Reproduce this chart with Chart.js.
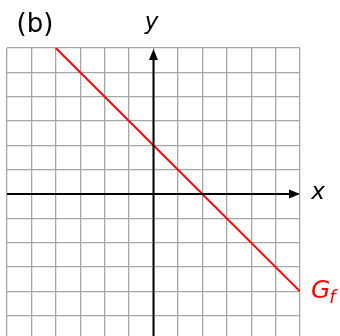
<!DOCTYPE html>
<html>
<head>
<meta charset="utf-8">
<script src="https://cdn.jsdelivr.net/npm/chart.js@4.4.0/dist/chart.umd.min.js"></script>
<style>
  html, body { margin: 0; padding: 0; background: #fff; overflow: hidden; }
  #wrap { width: 340px; height: 336px; overflow: hidden; }
  canvas { display: block; }
</style>
</head>
<body>
<div id="wrap"><canvas id="chart" width="340" height="345"></canvas></div>
<script>
  // Axis ranges (grid cells of 1 unit)
  const xRange = [-6, 6];
  const yRange = [-6, 6];

  // Graph G_f : y = -x + 2, drawn between these points
  const lineX = [-4, 6];
  const lineY = [6, -4];

  // Labels
  const panelLabel = '(b)';
  const xLabel = 'x';
  const yLabel = 'y';
  const graphLabel = ['G', 'f'];

  const RED = '#ff0000';
  const GRID = '#a6a6a6';

  // Axes with arrows + labels
  const axesPlugin = {
    id: 'axes',
    afterDatasetsDraw(chart) {
      const ctx = chart.ctx;
      const xs = chart.scales.x, ys = chart.scales.y;
      const x0 = xs.getPixelForValue(0);
      const y0 = ys.getPixelForValue(0);
      const left = xs.getPixelForValue(xRange[0]);
      const right = xs.getPixelForValue(xRange[1]);
      const top = ys.getPixelForValue(yRange[1]);
      const bottom = ys.getPixelForValue(yRange[0]);

      ctx.save();
      ctx.strokeStyle = '#000';
      ctx.fillStyle = '#000';
      ctx.lineWidth = 2;
      // x axis
      ctx.beginPath();
      ctx.moveTo(left, y0);
      ctx.lineTo(right - 8, y0);
      ctx.stroke();
      ctx.beginPath();
      ctx.moveTo(right, y0);
      ctx.lineTo(right - 11, y0 - 4.5);
      ctx.lineTo(right - 11, y0 + 4.5);
      ctx.closePath();
      ctx.fill();
      // y axis
      ctx.beginPath();
      ctx.moveTo(x0, bottom);
      ctx.lineTo(x0, top + 10);
      ctx.stroke();
      ctx.beginPath();
      ctx.moveTo(x0, top + 1);
      ctx.lineTo(x0 - 4.5, top + 12);
      ctx.lineTo(x0 + 4.5, top + 12);
      ctx.closePath();
      ctx.fill();

      // text
      ctx.textBaseline = 'middle';
      ctx.textAlign = 'center';
      ctx.font = '26px "DejaVu Sans"';
      ctx.fillText(panelLabel, 35, 25);
      ctx.font = 'italic 23px "DejaVu Sans"';
      ctx.fillText(yLabel, x0 - 2, 23);
      ctx.fillText(xLabel, right + 18, y0 - 1);

      // G_f label
      const gy = ys.getPixelForValue(lineY[1]);
      ctx.fillStyle = RED;
      ctx.textAlign = 'left';
      ctx.textBaseline = 'alphabetic';
      ctx.font = 'italic 25px "DejaVu Sans"';
      ctx.fillText(graphLabel[0], right + 11, gy + 6.5);
      const gw = ctx.measureText(graphLabel[0]).width;
      ctx.font = 'italic 18px "DejaVu Sans"';
      ctx.fillText(graphLabel[1], right + 11 + gw - 1, gy + 12);
      ctx.restore();
    }
  };

  new Chart(document.getElementById('chart'), {
    type: 'scatter',
    data: {
      datasets: [{
        data: lineX.map((x, i) => ({ x: x, y: lineY[i] })),
        showLine: true,
        borderColor: RED,
        borderWidth: 2,
        pointRadius: 0,
        tension: 0
      }]
    },
    options: {
      responsive: false,
      animation: false,
      events: [],
      layout: { padding: { left: 7, right: 40, top: 48, bottom: 5 } },
      plugins: { legend: { display: false }, tooltip: { enabled: false } },
      scales: {
        x: {
          type: 'linear',
          min: xRange[0], max: xRange[1],
          ticks: { display: false, stepSize: 1 },
          grid: { color: GRID, lineWidth: 1.3, drawTicks: false },
          border: { display: false }
        },
        y: {
          type: 'linear',
          min: yRange[0], max: yRange[1],
          ticks: { display: false, stepSize: 1 },
          grid: { color: GRID, lineWidth: 1.3, drawTicks: false },
          border: { display: false }
        }
      }
    },
    plugins: [axesPlugin]
  });
</script>
</body>
</html>
